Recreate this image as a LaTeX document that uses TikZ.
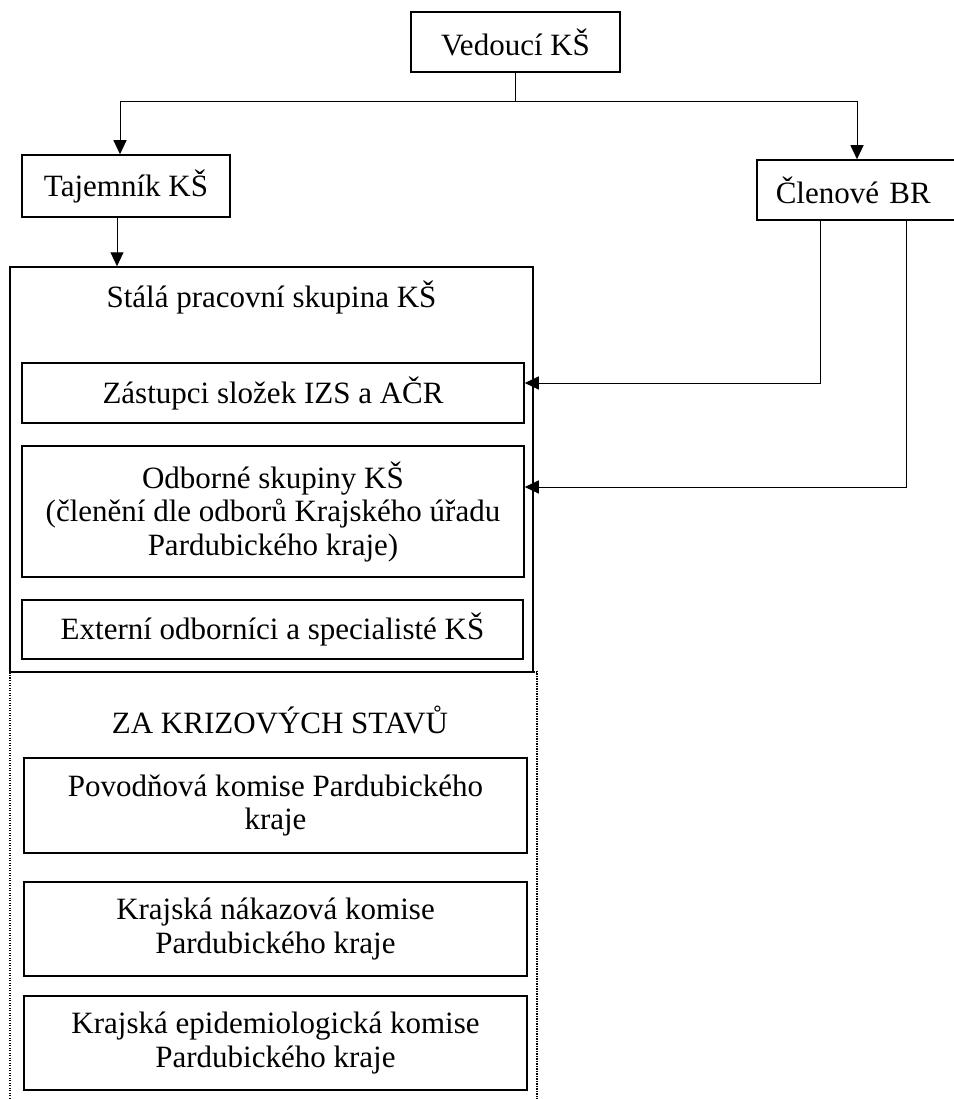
\documentclass[tikz,border=0pt]{standalone}
\usepackage{fontspec}
\setmainfont{Liberation Serif}
\usetikzlibrary{arrows.meta}
\tikzset{
  box/.style={draw, line width=1.5pt, rectangle, align=center, inner sep=0pt,
    font=\fontsize{31}{33.5}\selectfont},
  nadpis/.style={align=center, inner sep=0pt, font=\fontsize{31}{33.5}\selectfont},
  spoj/.style={line width=1pt},
  arr/.style={spoj, -{Triangle[width=13pt,length=14pt]}},
  skupina/.style={draw, line width=1.3pt, dash pattern=on 1.3pt off 1.2pt, rectangle}
}
\begin{document}
\begin{tikzpicture}[x=1pt, y=-1pt]
  \useasboundingbox (0,0) rectangle (953,1099);
  % vedeni
  \node[box, minimum width=209pt, minimum height=60pt] (ved) at (515.5,42) {Vedoucí KŠ};
  \node[box, minimum width=208pt, minimum height=62pt] (taj) at (126,186) {Tajemník KŠ};
  \node[box, anchor=west, text width=180pt, align=left, inner xsep=19pt,
    minimum height=60pt] (cle) at (756,190) {Členové BR};
  % za krizovych stavu
  \node[skupina, minimum width=527pt, minimum height=443pt] (kri) at (273.5,893.5) {};
  \node[nadpis] (krinad) at (280,720) {ZA KRIZOVÝCH STAVŮ};
  \node[box, minimum width=503pt, minimum height=95pt] (pov) at (275.5,805.5)
    {Povodňová komise Pardubického\\kraje};
  \node[box, minimum width=503pt, minimum height=94pt] (nak) at (275.5,929)
    {Krajská nákazová komise\\Pardubického kraje};
  \node[box, minimum width=503pt, minimum height=94pt] (epi) at (275.5,1043)
    {Krajská epidemiologická komise\\Pardubického kraje};
  % stala pracovni skupina
  \node[box, fill=white, minimum width=523pt, minimum height=405pt] (sta) at (271.5,469.5) {};
  \node[nadpis] (stanad) at (271.5,297) {Stálá pracovní skupina KŠ};
  \node[box, minimum width=502pt, minimum height=60pt] (zas) at (273,393)
    {Zástupci složek IZS a AČR};
  \node[box, minimum width=502pt, minimum height=131pt] (odb) at (273,511.5)
    {Odborné skupiny KŠ\\(členění dle odborů Krajského úřadu\\Pardubického kraje)};
  \node[box, minimum width=501pt, minimum height=59pt] (ext) at (272.5,629.5)
    {Externí odborníci a specialisté KŠ};
  % spojnice
  \draw[spoj] (ved.south) -- ++(0,29) coordinate (rozv);
  \draw[arr] (rozv) -| ([xshift=-6pt]taj.north);
  \draw[arr] (rozv) -| ([xshift=101pt]cle.north west);
  \draw[arr] ([xshift=-9pt]taj.south) -- ([xshift=-9pt]taj.south |- sta.north);
  \draw[arr] ([xshift=64pt]cle.south west) |- ([yshift=10pt]zas.east);
  \draw[arr] ([xshift=150pt]cle.south west) |- ([yshift=24.5pt]odb.east);
\end{tikzpicture}
\end{document}
